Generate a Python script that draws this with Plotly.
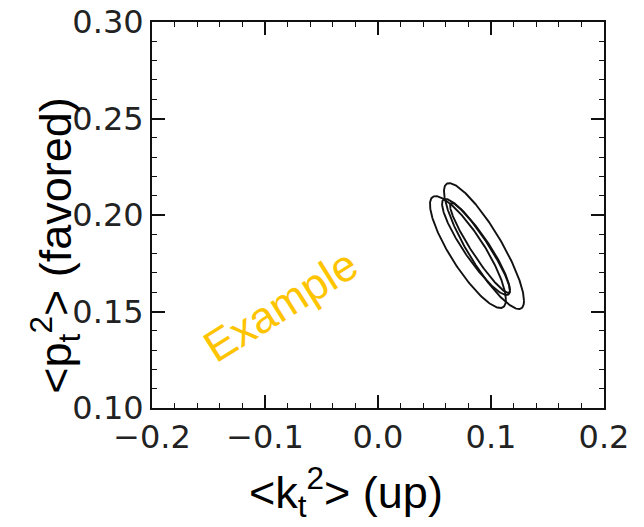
import numpy as np
import plotly.graph_objects as go

# Contour ellipses: centre, half-extent in x and y, correlation
ell_cx = [0.0938, 0.0796, 0.0867, 0.0903]
ell_cy = [0.1839, 0.1808, 0.1834, 0.1829]
ell_sx = [0.0354, 0.0336, 0.0300, 0.0265]
ell_sy = [0.0326, 0.0290, 0.0249, 0.0233]
ell_rho = [-0.87, -0.85, -0.90, -0.94]

x_ticks = [-0.2, -0.1, 0.0, 0.1, 0.2]
y_ticks = [0.10, 0.15, 0.20, 0.25, 0.30]

fig = go.Figure()
t = np.linspace(0, 2 * np.pi, 240)
for cx, cy, sx, sy, r in zip(ell_cx, ell_cy, ell_sx, ell_sy, ell_rho):
    xs = cx + sx * np.cos(t)
    ys = cy + sy * (r * np.cos(t) + np.sqrt(1 - r * r) * np.sin(t))
    fig.add_trace(go.Scatter(x=xs, y=ys, mode="lines",
                             line=dict(color="#111", width=1.9),
                             showlegend=False, hoverinfo="skip"))

tickfont = dict(family="DejaVu Sans", size=32, color="#222")
common = dict(showline=True, linecolor="#111", linewidth=2, mirror="allticks",
              ticks="inside", ticklen=13, tickwidth=1.5, tickcolor="#111",
              showgrid=False, zeroline=False, tickfont=tickfont, automargin=False,
              ticklabeloverflow="allow")

fig.update_xaxes(range=[-0.2, 0.2], tickvals=x_ticks, tickformat=".1f",
                 minor=dict(dtick=0.02, ticks="inside", ticklen=5, tickwidth=1.2,
                            tickcolor="#111", showgrid=False),
                 **common)
fig.update_yaxes(range=[0.10, 0.30], tickvals=y_ticks, tickformat=".2f",
                 minor=dict(dtick=0.01, ticks="inside", ticklen=5, tickwidth=1.2,
                            tickcolor="#111", showgrid=False),
                 **common)

titlefont = dict(family="Liberation Sans, Arial", size=45, color="#000")
fig.add_annotation(text="&lt;k<sub>t</sub><sup>2</sup>&gt; (up)", xref="paper", yref="paper",
                   x=0.43, y=-0.218, xanchor="center", yanchor="middle",
                   showarrow=False, font=titlefont)
fig.add_annotation(text="&lt;p<sub>t</sub><sup>2</sup>&gt; (favored)", xref="paper", yref="paper",
                   x=-0.215, y=0.42, xanchor="center", yanchor="middle", textangle=-90,
                   showarrow=False, font=titlefont)
fig.add_annotation(text="Example", x=-0.0867, y=0.153, xref="x", yref="y",
                   textangle=-32, showarrow=False,
                   font=dict(family="Liberation Sans, Arial", size=44, color="#FFC400"))

fig.update_layout(width=644, height=527, margin=dict(l=144, r=48, t=14, b=127),
                  paper_bgcolor="white", plot_bgcolor="white")
fig.write_html("out.html")
